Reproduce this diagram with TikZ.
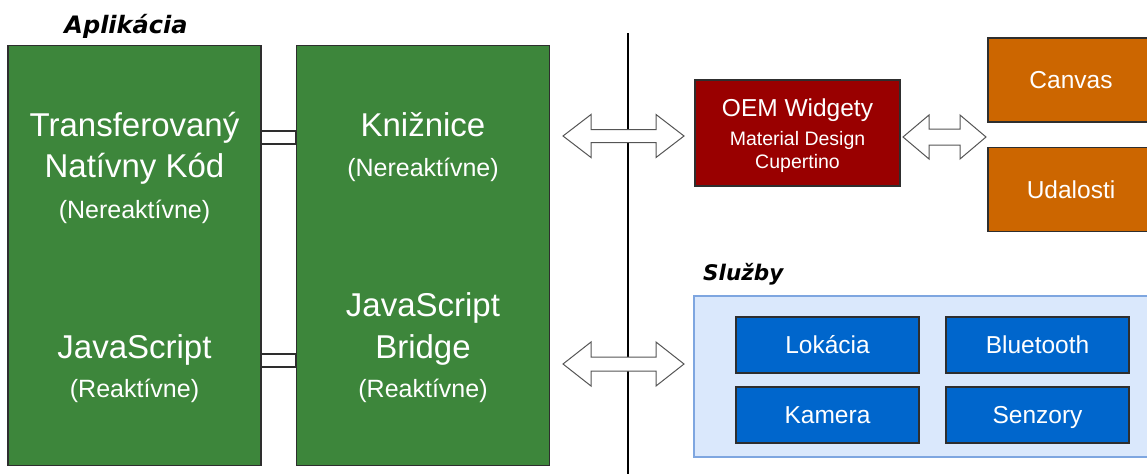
\documentclass[tikz,border=0pt]{standalone}
\usepackage{fontspec}
\setmainfont{Liberation Sans}
\newfontfamily\titlefont{DejaVu Sans}
\definecolor{appgreen}{HTML}{3D863B}
\definecolor{oemred}{HTML}{990000}
\definecolor{evorange}{HTML}{CC6600}
\definecolor{svcblue}{HTML}{0066CC}
\definecolor{svcbg}{HTML}{DAE8FC}
\definecolor{svcborder}{HTML}{7EA6E0}
\definecolor{boxline}{HTML}{2E2E2E}
\definecolor{arrowline}{HTML}{555555}
\tikzset{
  boxbase/.style={draw=boxline, line width=1.3pt, text=white, align=center, inner sep=0pt},
  greenbox/.style={boxbase, fill=appgreen, minimum width=253, minimum height=420},
  redbox/.style={boxbase, fill=oemred, minimum width=205, minimum height=106},
  orangebox/.style={boxbase, fill=evorange, minimum width=166, minimum height=84, font=\fontsize{24.5}{28}\selectfont, text height=17.5, text depth=0},
  bluebox/.style={boxbase, fill=svcblue, minimum width=183, minimum height=56, font=\fontsize{24.5}{28}\selectfont, text height=17.5, text depth=0},
  titletext/.style={font=\titlefont\bfseries\itshape\fontsize{24}{28}\selectfont, inner sep=0pt},
  bigtxt/.style={text=white, font=\fontsize{33}{38}\selectfont, text height=23.6, text depth=0},
  smalltxt/.style={text=white, font=\fontsize{25}{29}\selectfont, text height=17.9, text depth=0},
  blockarrow/.style={draw=arrowline, fill=white, line width=1pt, line join=miter},
  linkbar/.style={draw=boxline, fill=white, line width=1.3pt},
}
\begin{document}
\begin{tikzpicture}[x=1pt, y=-1pt]
\useasboundingbox (0,0) rectangle (1147,474);
\clip (0,0) rectangle (1147,474);

% divider line
\coordinate (divtop) at (628,33);
\coordinate (divbot) at (628,474);
\draw[line width=1.3pt, black] (divtop) -- (divbot);

% titles
\node[titletext, anchor=center] (apptitle) at (126,26) {Aplikácia};
\node[titletext, anchor=west, font=\titlefont\bfseries\itshape\fontsize{21.5}{25}\selectfont] (svctitle) at (703,274) {Služby};

% green application boxes
\node[greenbox] (native) at (134.5,255.5) {};
\node[greenbox] (lib) at (423,255.5) {};

\node[bigtxt] (t1) at (134.5,125) {Transferovaný};
\node[bigtxt] (t2) at (134.5,166) {Natívny Kód};
\node[smalltxt] (t3) at (134.5,210) {(Nereaktívne)};
\node[bigtxt] (t4) at (134.5,347) {JavaScript};
\node[smalltxt] (t5) at (134.5,389) {(Reaktívne)};

\node[bigtxt] (k1) at (423,125) {Knižnice};
\node[smalltxt] (k2) at (423,168) {(Nereaktívne)};
\node[bigtxt] (k3) at (423,305) {JavaScript};
\node[bigtxt] (k4) at (423,347) {Bridge};
\node[smalltxt] (k5) at (423,389) {(Reaktívne)};

% link bars between green boxes
\draw[linkbar] (native.east |- 0,131) rectangle (lib.west |- 0,144);
\draw[linkbar] (native.east |- 0,354) rectangle (lib.west |- 0,367);

% OEM widgets
\node[redbox] (oem) at (797.5,133) {};
\node[text=white, font=\fontsize{24.5}{28}\selectfont, text height=17.5, text depth=0] (o1) at (797.5,108) {OEM Widgety};
\node[text=white, font=\fontsize{19.5}{23}\selectfont, text height=14, text depth=0] (o2) at (797.5,138) {Material Design};
\node[text=white, font=\fontsize{19.5}{23}\selectfont, text height=14, text depth=0] (o3) at (797.5,161) {Cupertino};

% orange boxes
\node[orangebox] (canvas) at (1071,80) {Canvas};
\node[orangebox] (events) at (1071,189.5) {Udalosti};

% services
\node[draw=svcborder, fill=svcbg, line width=1.2pt, minimum width=470, minimum height=161, inner sep=0pt] (svc) at (929,376.5) {};
\node[bluebox] (loc) at (827.5,345) {Lokácia};
\node[bluebox] (bt) at (1037.5,345) {Bluetooth};
\node[bluebox] (cam) at (827.5,415) {Kamera};
\node[bluebox] (sen) at (1037.5,415) {Senzory};

% block double arrows
\draw[blockarrow] (563,136) -- (591,114.5) -- (591,129.5) -- (656,129.5) -- (656,114.5) -- (684,136)
  -- (656,157.5) -- (656,142.5) -- (591,142.5) -- (591,157.5) -- cycle;
\draw[blockarrow] (563,364) -- (591,342) -- (591,357) -- (656,357) -- (656,342) -- (684,364)
  -- (656,386) -- (656,371) -- (591,371) -- (591,386) -- cycle;
\draw[blockarrow] (903,137) -- (929,115) -- (929,129) -- (960,129) -- (960,115) -- (986,137)
  -- (960,159) -- (960,145) -- (929,145) -- (929,159) -- cycle;
\end{tikzpicture}
\end{document}
